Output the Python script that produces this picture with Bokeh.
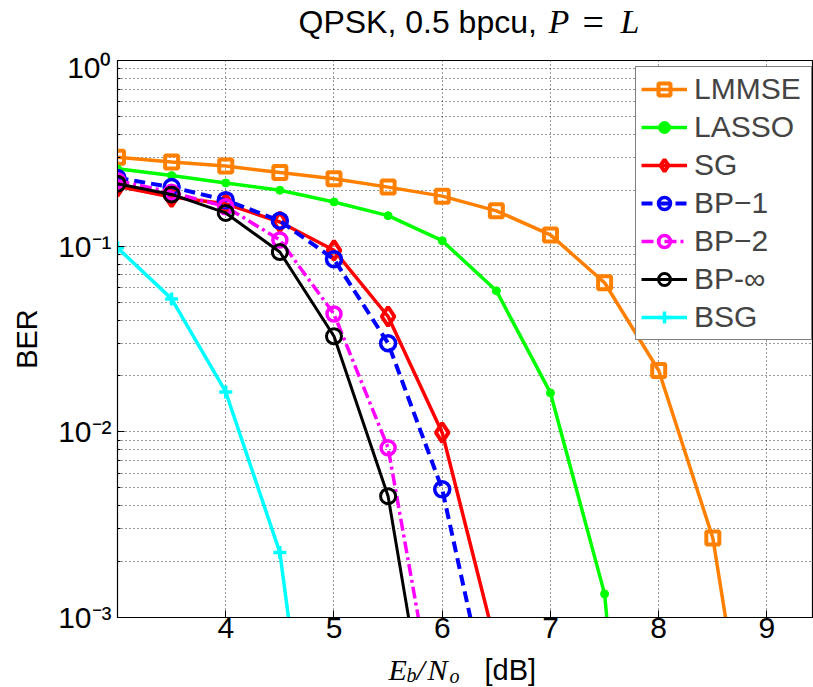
from bokeh.plotting import figure
from bokeh.models import Range1d, FixedTicker, CustomJSTickFormatter, Label
from bokeh.layouts import column
from bokeh.embed import file_html
from bokeh.resources import INLINE

# ---- data ----
x_lmmse = [3, 3.5, 4, 4.5, 5, 5.5, 6, 6.5, 7, 7.5, 8, 8.5, 9]
ber_lmmse = [0.301, 0.284, 0.270, 0.249, 0.231, 0.208, 0.186, 0.155, 0.115, 0.0635, 0.0214, 0.00268, 4e-5]

x_lasso = [3, 3.5, 4, 4.5, 5, 5.5, 6, 6.5, 7, 7.5, 8]
ber_lasso = [0.261, 0.240, 0.219, 0.200, 0.173, 0.146, 0.107, 0.0575, 0.0162, 0.00134, 1e-6]

x_sg = [3, 3.5, 4, 4.5, 5, 5.5, 6, 6.5]
ber_sg = [0.210, 0.184, 0.169, 0.135, 0.095, 0.0418, 0.0099, 6.9e-4]

x_bp1 = [3, 3.5, 4, 4.5, 5, 5.5, 6, 6.5]
ber_bp1 = [0.233, 0.208, 0.177, 0.137, 0.085, 0.030, 0.0049, 2.3e-4]

x_bp2 = [3, 3.5, 4, 4.5, 5, 5.5, 6]
ber_bp2 = [0.225, 0.195, 0.163, 0.108, 0.0431, 0.0082, 1.9e-4]

x_bpinf = [3, 3.5, 4, 4.5, 5, 5.5, 6]
ber_bpinf = [0.217, 0.190, 0.151, 0.093, 0.0327, 0.0045, 8.5e-5]

x_bsg = [3, 3.5, 4, 4.5, 5]
ber_bsg = [0.098, 0.052, 0.0164, 0.00224, 1.4e-5]

x_ticks = [4, 5, 6, 7, 8, 9]
y_decades = [-3, -2, -1, 0]

SANS = "Liberation Sans"
SERIF = "Liberation Serif"
W = 813
LEFT = 117


def strip(height):
    """A text-only strip (no axes); its frame lines up with the main plot's frame,
    and its data units are page pixels."""
    s = figure(width=W, height=height, output_backend="svg", toolbar_location=None,
               x_range=Range1d(LEFT, W), y_range=Range1d(0, height),
               x_axis_location=None, y_axis_location=None,
               min_border_left=LEFT, min_border_right=0, min_border_top=0, min_border_bottom=0)
    s.grid.visible = False
    s.outline_line_color = None
    s.background_fill_color = "white"
    s.border_fill_color = "white"
    return s


def lab(fig, text, x, y, font, size, style="normal"):
    fig.add_layout(Label(x=x, y=y, text=text, text_font=font, text_font_size=size,
                         text_font_style=style, text_baseline="middle", text_align="left",
                         text_color="black"))


# ---- title strip: QPSK, 0.5 bpcu, P = L ----
TH = 50
top = strip(TH)
lab(top, "QPSK, 0.5 bpcu,", 298, TH - 21, SANS, "32px")
lab(top, "P", 548, TH - 21, SERIF, "34px", "italic")
lab(top, "=", 582, TH - 21, SERIF, "38px")
lab(top, "L", 620, TH - 21, SERIF, "34px", "italic")

# ---- main plot ----
p = figure(width=W, height=602, output_backend="svg", toolbar_location=None,
           y_axis_type="log", x_range=Range1d(3, 9.43), y_range=Range1d(1e-3, 1),
           min_border_left=LEFT, min_border_right=0, min_border_top=10, min_border_bottom=35)

p.outline_line_color = "black"
p.outline_line_width = 1.2
p.background_fill_color = "white"

p.xaxis.ticker = FixedTicker(ticks=x_ticks)
majors = [10.0 ** d for d in y_decades]
minors = [m * 10.0 ** d for d in y_decades[:-1] for m in range(2, 10)]
p.yaxis.ticker = FixedTicker(ticks=majors, minor_ticks=minors)
p.yaxis.formatter = CustomJSTickFormatter(code="""
const e = Math.round(Math.log10(tick));
const sup = {'0': '\u2070', '-1': '\u207b\u00b9', '-2': '\u207b\u00b2', '-3': '\u207b\u00b3'};
return '10' + sup[String(e)];
""")
for ax in (p.xaxis[0], p.yaxis[0]):
    ax.axis_line_color = "black"
    ax.major_tick_in = 7
    ax.major_tick_out = 0
    ax.minor_tick_in = 3
    ax.minor_tick_out = 0
    ax.major_tick_line_color = "black"
    ax.minor_tick_line_color = "black"
    ax.major_label_text_font = SANS
    ax.major_label_text_font_size = "30px"
    ax.major_label_text_color = "black"
p.xaxis.major_label_standoff = 0
p.yaxis.major_label_standoff = 6
p.yaxis.axis_label = "BER"
p.yaxis.axis_label_text_font = SANS
p.yaxis.axis_label_text_font_size = "29px"
p.yaxis.axis_label_text_font_style = "normal"
p.yaxis.axis_label_text_color = "black"
p.yaxis.axis_label_standoff = 12

for g in (p.xgrid[0], p.ygrid[0]):
    g.grid_line_color = "black"
    g.grid_line_alpha = 0.8
    g.grid_line_dash = "1 3"
p.ygrid.minor_grid_line_color = "black"
p.ygrid.minor_grid_line_alpha = 0.8
p.ygrid.minor_grid_line_dash = "1 3"

ORANGE = "#FF8000"
GREEN = "#00FF00"
RED = "#FF0000"
BLUE = "#0000FF"
MAGENTA = "#FF00FF"
BLACK = "#000000"
CYAN = "#00FFFF"

p.line(x_lmmse, ber_lmmse, color=ORANGE, line_width=3.5, legend_label="LMMSE")
p.scatter(x_lmmse, ber_lmmse, marker="square", size=13, line_color=ORANGE, fill_color=None,
          line_width=4, legend_label="LMMSE")

p.line(x_lasso, ber_lasso, color=GREEN, line_width=3.5, legend_label="LASSO")
p.scatter(x_lasso, ber_lasso, marker="circle", size=8, line_color=GREEN, fill_color=GREEN,
          legend_label="LASSO")

p.line(x_sg, ber_sg, color=RED, line_width=3.5, legend_label="SG")
p.scatter(x_sg, ber_sg, marker="diamond", size=19, line_color=RED, fill_color=None,
          line_width=4, legend_label="SG")

p.line(x_bp1, ber_bp1, color=BLUE, line_width=4, line_dash="11 6", legend_label="BP\u22121")
p.scatter(x_bp1, ber_bp1, marker="circle", size=15, line_color=BLUE, fill_color=None,
          line_width=3.5, legend_label="BP\u22121")

p.line(x_bp2, ber_bp2, color=MAGENTA, line_width=3.5, line_dash="12 4 3 4", legend_label="BP\u22122")
p.scatter(x_bp2, ber_bp2, marker="circle", size=14, line_color=MAGENTA, fill_color=None,
          line_width=3.5, legend_label="BP\u22122")

p.line(x_bpinf, ber_bpinf, color=BLACK, line_width=3, legend_label="BP-\u221e")
p.scatter(x_bpinf, ber_bpinf, marker="circle", size=15, line_color=BLACK, fill_color=None,
          line_width=3, legend_label="BP-\u221e")

p.line(x_bsg, ber_bsg, color=CYAN, line_width=3.5, legend_label="BSG")
p.scatter(x_bsg, ber_bsg, marker="cross", size=13, line_color=CYAN, line_width=3.5,
          legend_label="BSG")

lg = p.legend[0]
lg.location = (518, 277)
lg.border_line_color = "black"
lg.border_line_width = 1.2
lg.background_fill_color = "white"
lg.background_fill_alpha = 1
lg.label_text_font = SANS
lg.label_text_font_size = "30px"
lg.glyph_width = 46
lg.glyph_height = 30
lg.label_height = 30
lg.label_width = 112
lg.label_standoff = 7
lg.spacing = 4
lg.padding = 5
lg.margin = 0

# ---- x-label strip: E_b/N_o [dB] ----
BH = 35
bot = strip(BH)
yc = BH - (669 - 652)
lab(bot, "E", 388, yc, SERIF, "30px", "italic")
lab(bot, "b", 406, yc - 5, SERIF, "20px", "italic")
lab(bot, "/", 416, yc, SERIF, "30px", "italic")
lab(bot, "N", 427, yc, SERIF, "30px", "italic")
lab(bot, "o", 449, yc - 6, SERIF, "20px", "italic")
lab(bot, "[dB]", 484, yc, SANS, "29px")

layout = column(top, p, bot, spacing=0)
open("out.html", "w").write(file_html(layout, INLINE))
